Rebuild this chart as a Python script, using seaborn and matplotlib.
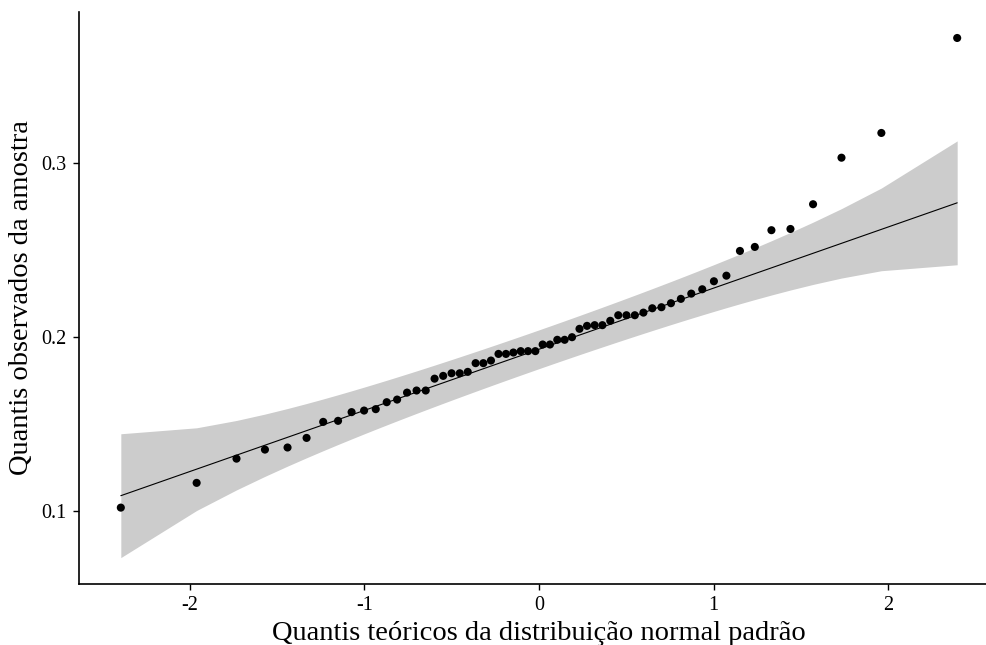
import numpy as np
import pandas as pd
import matplotlib
matplotlib.use("Agg")
import matplotlib.pyplot as plt
import seaborn as sns
from statistics import NormalDist

# Sample values (sorted)
sample = [0.1022, 0.1164, 0.1303, 0.1355, 0.1367, 0.1422, 0.1514, 0.1520, 0.1570, 0.1579,
          0.1587, 0.1627, 0.1642, 0.1682, 0.1694, 0.1694, 0.1762, 0.1778, 0.1793, 0.1793,
          0.1801, 0.1851, 0.1851, 0.1866, 0.1904, 0.1904, 0.1912, 0.1920, 0.1920, 0.1920,
          0.1958, 0.1958, 0.1985, 0.1985, 0.2000, 0.2048, 0.2065, 0.2069, 0.2069, 0.2094,
          0.2126, 0.2126, 0.2126, 0.2141, 0.2166, 0.2172, 0.2195, 0.2220, 0.2250, 0.2275,
          0.2321, 0.2353, 0.2495, 0.2518, 0.2614, 0.2621, 0.2763, 0.3030, 0.3172, 0.3717]
x_ticks = [-2, -1, 0, 1, 2]
y_ticks = [0.1, 0.2, 0.3]
x_label = "Quantis teóricos da distribuição normal padrão"
y_label = "Quantis observados da amostra"
conf_level = 0.95

# Q-Q computation (as ggqqplot does)
y = np.sort(np.array(sample))
n = len(y)
nd = NormalDist()
P = (np.arange(1, n + 1) - 0.5) / n
z = np.array([nd.inv_cdf(p) for p in P])
q1, q3 = np.quantile(y, [0.25, 0.75])
zq = np.array([nd.inv_cdf(0.25), nd.inv_cdf(0.75)])
slope = (q3 - q1) / (zq[1] - zq[0])
intercept = q1 - slope * zq[0]
fit = intercept + slope * z
dens = np.array([nd.pdf(v) for v in z])
se = (slope / dens) * np.sqrt(P * (1 - P) / n)
zz = nd.inv_cdf(1 - (1 - conf_level) / 2)
upper = fit + zz * se
lower = fit - zz * se

df = pd.DataFrame({"z": z, "y": y, "fit": fit, "lower": lower, "upper": upper})

sns.set_theme(style="ticks")
plt.rcParams["font.family"] = ["Liberation Serif", "DejaVu Serif"]
plt.rcParams["axes.unicode_minus"] = False

fig = plt.figure(figsize=(9.86, 6.45), dpi=100)
W, H = 986, 645
ax = fig.add_axes([79 / W, (H - 583.6) / H, 920 / W, (583.6 - 12) / H])

ax.fill_between(df["z"], df["lower"], df["upper"], color="#CCCCCC", linewidth=0, zorder=1)
sns.lineplot(data=df, x="z", y="fit", color="black", linewidth=0.8, ax=ax, zorder=2)
sns.scatterplot(data=df, x="z", y="y", color="black", s=34, edgecolor="none", ax=ax, zorder=3)

# ggplot-like 5% expansion
xmin, xmax = z.min(), z.max()
ymin = min(lower.min(), y.min())
ymax = max(upper.max(), y.max())
dx = (xmax - xmin) * 0.05
dy = (ymax - ymin) * 0.05
ax.set_xlim(xmin - dx, xmax + dx)
ax.set_ylim(ymin - dy, ymax + dy)

ax.set_xticks(x_ticks)
ax.set_xticklabels([str(t) for t in x_ticks])
ax.set_yticks(y_ticks)
ax.set_yticklabels([f"{t:.1f}" for t in y_ticks])

ax.set_xlabel(x_label, fontsize=20.5, color="black", labelpad=4)
ax.set_ylabel(y_label, fontsize=20.5, color="black", labelpad=5)
ax.tick_params(axis="both", labelsize=14.5, colors="black", length=4, width=1, direction="out", pad=5)

for side in ["top", "right"]:
    ax.spines[side].set_visible(False)
for side in ["left", "bottom"]:
    ax.spines[side].set_color("black")
    ax.spines[side].set_linewidth(1.2)

fig.savefig("out.png", dpi=100)
